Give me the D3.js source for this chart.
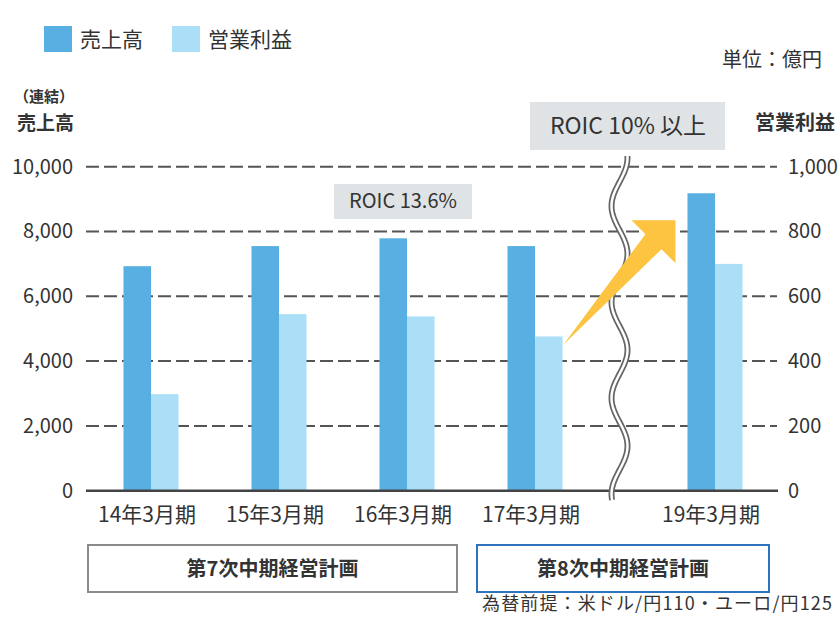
<!DOCTYPE html>
<html>
<head>
<meta charset="utf-8">
<script src="https://cdn.jsdelivr.net/npm/d3@7"></script>
<style>
  body { margin: 0; background: #fff; }
  svg text { font-family: "Noto Sans CJK JP", "Noto Sans", sans-serif; fill: #333; }
</style>
</head>
<body>
<div id="chart"></div>
<script>
// data
var periods = ["14年3月期", "15年3月期", "16年3月期", "17年3月期", "19年3月期"];
var sales = [6930, 7550, 7790, 7550, 9180];      // 売上高 (left axis)
var profit = [298, 545, 538, 476, 700];          // 営業利益 (right axis)
var leftTicks = [0, 2000, 4000, 6000, 8000, 10000];
var rightTicks = [0, 200, 400, 600, 800, 1000];
var seriesNames = ["売上高", "営業利益"];
var plans = ["第7次中期経営計画", "第8次中期経営計画"];
var roicLabels = ["ROIC 13.6%", "ROIC 10% 以上"];

var width = 840, height = 617;
var darkBlue = "#58afe2", lightBlue = "#abdff8";

var svg = d3.select("#chart").append("svg")
    .attr("width", width)
    .attr("height", height);

// slot position; the last period sits after the axis break
var breakShift = 0.406;
var slot = function(i) { return i + (i >= 4 ? breakShift : 0); };
var x = d3.scaleLinear().domain([0, 4 + breakShift]).range([151, 715]);
var step = x(1) - x(0);
var barW = step * 0.215;

var yL = d3.scaleLinear().domain([0, 10000]).range([490.7, 166.7]);
var yR = d3.scaleLinear().domain([0, 1000]).range([490.7, 166.7]);

var gridLeft = 86, gridRight = 777;

// dashed grid lines
svg.append("g").selectAll("line")
    .data(leftTicks.filter(d => d > 0))
    .enter().append("line")
    .attr("x1", gridLeft)
    .attr("x2", gridRight)
    .attr("y1", d => yL(d))
    .attr("y2", d => yL(d))
    .attr("stroke", "#555")
    .attr("stroke-width", 2)
    .attr("stroke-dasharray", "13,5");

// left axis labels
var axisL = svg.append("g")
    .attr("transform", "translate(" + gridLeft + ",0)")
    .call(d3.axisLeft(yL).tickValues(leftTicks).tickFormat(d3.format(",")).tickSize(0).tickPadding(13));
axisL.select(".domain").remove();
axisL.selectAll("text")
    .style("font-size", "20px")
    .attr("fill", "#333");

// right axis labels
var axisR = svg.append("g")
    .attr("transform", "translate(" + gridRight + ",0)")
    .call(d3.axisRight(yR).tickValues(rightTicks).tickFormat(d3.format(",")).tickSize(0).tickPadding(11));
axisR.select(".domain").remove();
axisR.selectAll("text")
    .style("font-size", "20px")
    .attr("fill", "#333");

// bars
var groups = svg.append("g").selectAll("g")
    .data(periods)
    .enter().append("g");

groups.append("rect")
    .attr("x", (d, i) => x(slot(i)) - barW)
    .attr("y", (d, i) => yL(sales[i]))
    .attr("width", barW)
    .attr("height", (d, i) => yL(0) - yL(sales[i]))
    .attr("fill", darkBlue);

groups.append("rect")
    .attr("x", (d, i) => x(slot(i)))
    .attr("y", (d, i) => yR(profit[i]))
    .attr("width", barW)
    .attr("height", (d, i) => yR(0) - yR(profit[i]))
    .attr("fill", lightBlue);

// x labels
svg.append("g").selectAll("text")
    .data(periods)
    .enter().append("text")
    .attr("x", (d, i) => x(slot(i)) - 4)
    .attr("y", 522)
    .attr("text-anchor", "middle")
    .style("font-size", "21px")
    .text(d => d);

// zero line
svg.append("line")
    .attr("x1", gridLeft)
    .attr("x2", gridRight + 1)
    .attr("y1", yL(0))
    .attr("y2", yL(0))
    .attr("stroke", "#444")
    .attr("stroke-width", 2.5);

// wavy axis break
var breakX = x(3.66);
var wave = [];
for (var yy = 156; yy <= 500; yy += 2) {
    wave.push([breakX + 8 * Math.cos((yy - 158) / 96 * 2 * Math.PI), yy]);
}
var waveLine = d3.line().curve(d3.curveBasis);
svg.append("path")
    .attr("d", waveLine(wave))
    .attr("fill", "none")
    .attr("stroke", "#666")
    .attr("stroke-width", 6);
svg.append("path")
    .attr("d", waveLine(wave))
    .attr("fill", "none")
    .attr("stroke", "#fff")
    .attr("stroke-width", 2.5);

// yellow arrow from 17年 profit toward 19年 target
var tail = [x(slot(3)) + barW + 1, yR(profit[3]) + 8];
var tip = [x(slot(4)) - barW - 12, yL(8350)];
var arrow = [
    tail,
    [tip[0] - 30, tip[1] + 14],
    [tip[0] - 44, tip[1]],
    tip,
    [tip[0], tip[1] + 43],
    [tip[0] - 14, tip[1] + 29]
];
svg.append("polygon")
    .attr("points", arrow.map(p => p.join(",")).join(" "))
    .attr("fill", "#fcc440");

// ROIC labels
svg.append("rect")
    .attr("x", 334).attr("y", 184)
    .attr("width", 138).attr("height", 35)
    .attr("fill", "#dfe3e5");
svg.append("text")
    .attr("x", 403).attr("y", 208)
    .attr("text-anchor", "middle")
    .style("font-size", "20px")
    .text(roicLabels[0]);

svg.append("rect")
    .attr("x", 530).attr("y", 102)
    .attr("width", 195).attr("height", 48)
    .attr("fill", "#dfe3e5");
svg.append("text")
    .attr("x", 628).attr("y", 134)
    .attr("text-anchor", "middle")
    .style("font-size", "23px")
    .text(roicLabels[1]);

// legend
var legend = svg.append("g").selectAll("g")
    .data(seriesNames)
    .enter().append("g")
    .attr("transform", (d, i) => "translate(" + (44 + i * 128) + ",26)");
legend.append("rect")
    .attr("width", 28)
    .attr("height", 26)
    .attr("fill", (d, i) => i === 0 ? darkBlue : lightBlue);
legend.append("text")
    .attr("x", 36)
    .attr("y", 21)
    .style("font-size", "21px")
    .attr("fill", "#555")
    .text(d => d);

// axis titles and unit
svg.append("text").attr("x", 14).attr("y", 102)
    .style("font-size", "15px").style("font-weight", "bold").text("（連結）");
svg.append("text").attr("x", 17).attr("y", 130)
    .style("font-size", "19px").style("font-weight", "bold").text("売上高");
svg.append("text").attr("x", 755).attr("y", 130)
    .style("font-size", "20px").style("font-weight", "bold").text("営業利益");
svg.append("text").attr("x", 722).attr("y", 67)
    .style("font-size", "20px").text("単位：億円");

// plan boxes
var planBoxes = [
    {x0: 88, x1: 457, stroke: "#8a8a8a", color: "#333"},
    {x0: 477, x1: 769, stroke: "#2f73bd", color: "#245c9c"}
];
var pg = svg.append("g").selectAll("g")
    .data(plans)
    .enter().append("g");
pg.append("rect")
    .attr("x", (d, i) => planBoxes[i].x0)
    .attr("y", 545)
    .attr("width", (d, i) => planBoxes[i].x1 - planBoxes[i].x0)
    .attr("height", 47)
    .attr("fill", "#fff")
    .attr("stroke", (d, i) => planBoxes[i].stroke)
    .attr("stroke-width", 2);
pg.append("text")
    .attr("x", (d, i) => (planBoxes[i].x0 + planBoxes[i].x1) / 2)
    .attr("y", 576)
    .attr("text-anchor", "middle")
    .style("font-size", "20px")
    .style("font-weight", "bold")
    .attr("fill", (d, i) => planBoxes[i].color)
    .text(d => d);

// exchange rate note
svg.append("text")
    .attr("x", 482).attr("y", 610)
    .attr("textLength", 350)
    .attr("lengthAdjust", "spacing")
    .style("font-size", "18px")
    .text("為替前提：米ドル/円110・ユーロ/円125");
</script>
</body>
</html>
